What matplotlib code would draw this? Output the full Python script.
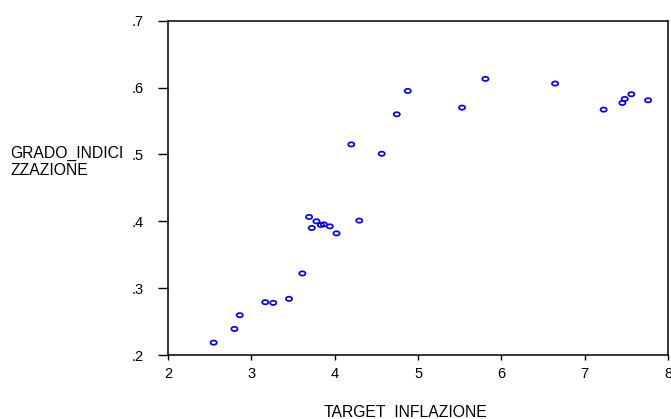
import numpy as np
import matplotlib
matplotlib.use("Agg")
import matplotlib.pyplot as plt
from matplotlib.path import Path

plt.rcParams['font.family'] = ['Liberation Sans', 'DejaVu Sans']

target_inflazione = [2.548, 2.797, 2.861, 3.167, 3.263, 3.452, 3.612, 3.693, 3.725,
                     3.781, 3.834, 3.870, 3.942, 4.022, 4.295, 4.199, 4.564, 4.745,
                     4.877, 5.528, 5.809, 6.645, 7.227, 7.452, 7.480, 7.560, 7.761]
grado_indicizzazione = [0.2185, 0.239, 0.2595, 0.279, 0.278, 0.284, 0.322, 0.4065, 0.390,
                        0.400, 0.3945, 0.3954, 0.3924, 0.3819, 0.401, 0.515, 0.501, 0.560,
                        0.595, 0.570, 0.613, 0.606, 0.567, 0.577, 0.583, 0.590, 0.581]
x_ticks = [2, 3, 4, 5, 6, 7, 8]
y_ticks = [0.2, 0.3, 0.4, 0.5, 0.6, 0.7]
y_tick_labels = ['.2', '.3', '.4', '.5', '.6', '.7']

# elliptical marker
t = np.linspace(0, 2 * np.pi, 40)
ell = Path(np.column_stack([np.cos(t), 0.68 * np.sin(t)]))

fig = plt.figure(figsize=(6.71, 4.19), dpi=100)
ax = fig.add_axes([0.2504, 0.1527, 0.7452, 0.7979])
ax.scatter(target_inflazione, grado_indicizzazione, marker=ell, s=20,
           facecolors='none', edgecolors='#0000ff', linewidths=1.25)
ax.set_xlim(2, 8)
ax.set_ylim(0.2, 0.7)
ax.set_xticks(x_ticks)
ax.set_xticklabels([str(v) for v in x_ticks])
ax.set_yticks(y_ticks)
ax.set_yticklabels(y_tick_labels)
ax.tick_params(axis='x', direction='out', length=3.6, width=1, labelsize=10.5,
               colors='black', pad=5)
ax.tick_params(axis='y', direction='out', length=7.5, width=1, labelsize=10.5,
               colors='black', pad=10)
for s in ax.spines.values():
    s.set_linewidth(1.1)
    s.set_color('black')

fig.text(0.6043, 0.004, 'TARGET_INFLAZIONE', ha='center', va='baseline', fontsize=11.3)
fig.text(0.015, 0.6134, 'GRADO_INDICI\nZZAZIONE', ha='left', va='center', fontsize=11.3,
         linespacing=1.2)

fig.savefig('out.png', dpi=100)
